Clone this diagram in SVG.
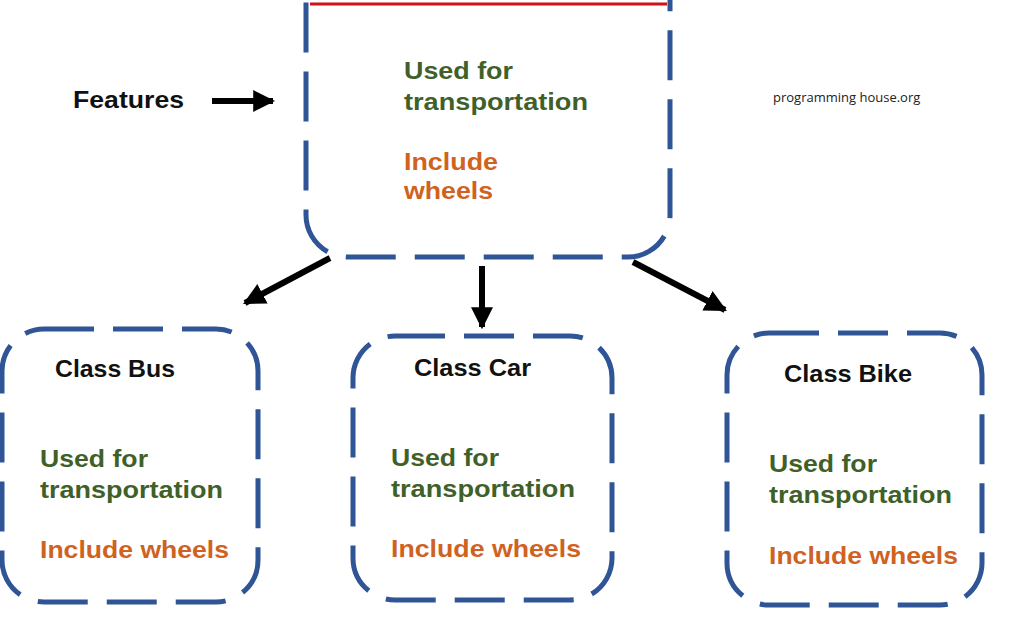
<svg xmlns="http://www.w3.org/2000/svg" width="1024" height="620" viewBox="0 0 1024 620">
<style>
.box{fill:none;stroke:#2f5597;stroke-width:5;stroke-dasharray:50 19;stroke-linecap:butt}
.t{font-family:"Liberation Sans",Arial,sans-serif;font-weight:700}
.title{font-size:24px;fill:#111}
.g{font-size:24px;fill:#3f6129}
.o{font-size:24px;fill:#d0621f}
.con{stroke:#000;stroke-width:6;fill:none}
</style>
<defs>
<marker id="ah" viewBox="0 0 10 10" refX="9" refY="5" markerWidth="22" markerHeight="22" markerUnits="userSpaceOnUse" orient="auto">
<path d="M0,0 L10,5 L0,10 z" fill="#000"/>
</marker>
</defs>
<rect width="1024" height="620" fill="#fff"/>
<g id="features">
<text class="t title" x="73" y="108" textLength="111" lengthAdjust="spacingAndGlyphs">Features</text>
</g>
<g id="watermark">
<text x="773" y="102" font-family="Open Sans, Liberation Sans, sans-serif" font-size="13" fill="#222">programming house.org</text>
</g>
<g id="vehicle">
<rect class="box" x="306" y="-80" width="364" height="337" rx="42"/>
<line x1="310" y1="4" x2="667" y2="4" stroke="#d0101a" stroke-width="3"/>
<text class="t g" x="404" y="79" textLength="109" lengthAdjust="spacingAndGlyphs">Used for</text>
<text class="t g" x="404" y="110" textLength="184" lengthAdjust="spacingAndGlyphs">transportation</text>
<text class="t o" x="404" y="170" textLength="94" lengthAdjust="spacingAndGlyphs">Include</text>
<text class="t o" x="404" y="199" textLength="89" lengthAdjust="spacingAndGlyphs">wheels</text>
</g>
<g id="bus">
<rect class="box" x="2" y="329" width="256" height="273" rx="42"/>
<text class="t title" x="55" y="377" textLength="120" lengthAdjust="spacingAndGlyphs">Class Bus</text>
<text class="t g" x="40" y="467" textLength="108" lengthAdjust="spacingAndGlyphs">Used for</text>
<text class="t g" x="40" y="498" textLength="183" lengthAdjust="spacingAndGlyphs">transportation</text>
<text class="t o" x="40" y="558" textLength="189" lengthAdjust="spacingAndGlyphs">Include wheels</text>
</g>
<g id="car">
<rect class="box" x="353" y="336" width="259" height="264" rx="42"/>
<text class="t title" x="414" y="376" textLength="117" lengthAdjust="spacingAndGlyphs">Class Car</text>
<text class="t g" x="391" y="466" textLength="108" lengthAdjust="spacingAndGlyphs">Used for</text>
<text class="t g" x="391" y="497" textLength="184" lengthAdjust="spacingAndGlyphs">transportation</text>
<text class="t o" x="391" y="557" textLength="190" lengthAdjust="spacingAndGlyphs">Include wheels</text>
</g>
<g id="bike">
<rect class="box" x="727" y="333" width="255" height="272" rx="42"/>
<text class="t title" x="784" y="382" textLength="128" lengthAdjust="spacingAndGlyphs">Class Bike</text>
<text class="t g" x="769" y="472" textLength="108" lengthAdjust="spacingAndGlyphs">Used for</text>
<text class="t g" x="769" y="503" textLength="183" lengthAdjust="spacingAndGlyphs">transportation</text>
<text class="t o" x="769" y="564" textLength="189" lengthAdjust="spacingAndGlyphs">Include wheels</text>
</g>
<g id="connectors">
<line class="con" x1="212" y1="101" x2="273" y2="101" stroke-width="8" marker-end="url(#ah)"/>
<line class="con" x1="330" y1="258" x2="245" y2="303" marker-end="url(#ah)"/>
<line class="con" x1="482" y1="266" x2="482" y2="327" marker-end="url(#ah)"/>
<line class="con" x1="633" y1="262" x2="725" y2="310" marker-end="url(#ah)"/>
</g>
</svg>
